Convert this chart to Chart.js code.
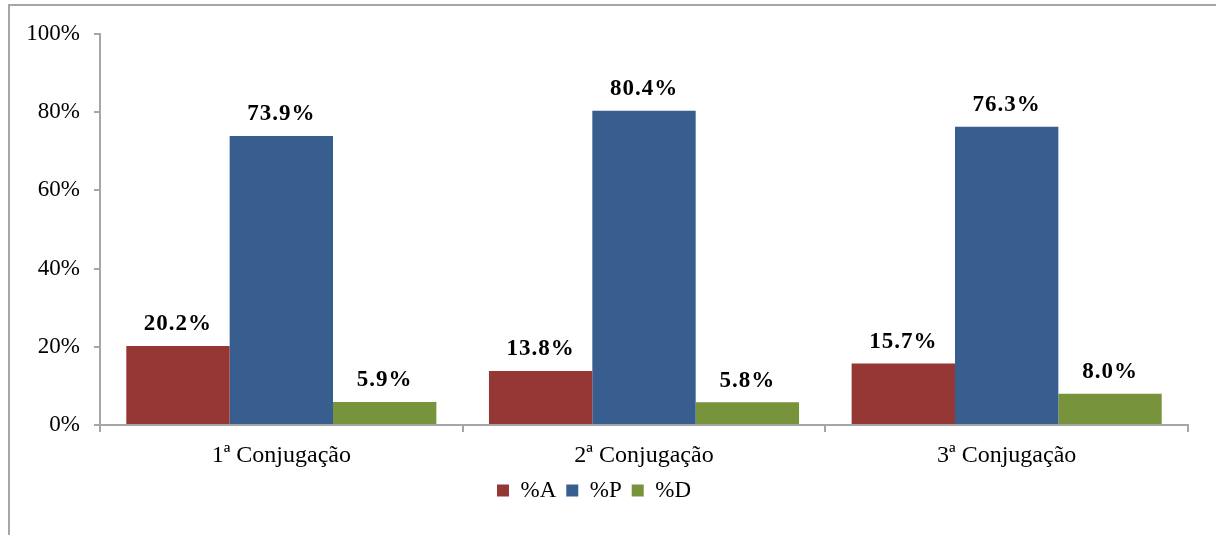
<!DOCTYPE html>
<html>
<head>
<meta charset="utf-8">
<script src="https://cdn.jsdelivr.net/npm/chart.js@4/dist/chart.umd.min.js"></script>
<style>
  body { margin: 0; background: #fff; }
  #frame {
    position: absolute; left: 8px; top: 4px; width: 1206px; height: 560px;
    border-top: 2px solid #a6a6a6; border-left: 2px solid #a6a6a6; border-right: 1px solid #e4e4e4;
  }
  canvas { position: absolute; left: 0; top: 0; }
</style>
</head>
<body>
<div id="frame"></div>
<canvas id="myChart" width="1216" height="535"></canvas>
<script>
// values
const categories = ["1ª Conjugação", "2ª Conjugação", "3ª Conjugação"]
const seriesNames = ["%A", "%P", "%D"]
const valuesA = [20.2, 13.8, 15.7]
const valuesP = [73.9, 80.4, 76.3]
const valuesD = [5.9, 5.8, 8.0]
const yTicks = [0, 20, 40, 60, 80, 100]

const serif = "'Liberation Serif', 'Times New Roman', serif"

// bold value labels above the bars
const barLabels = {
    id: "barLabels",
    afterDatasetsDraw(chart) {
        const ctx = chart.ctx
        ctx.save()
        ctx.font = "bold 23px " + serif
        ctx.letterSpacing = "1px"
        ctx.fillStyle = "#000"
        ctx.textAlign = "center"
        ctx.textBaseline = "bottom"
        chart.data.datasets.forEach((ds, i) => {
            chart.getDatasetMeta(i).data.forEach((bar, j) => {
                ctx.fillText(ds.data[j].toFixed(1) + "%", bar.x, bar.y - 10)
            })
        })
        ctx.restore()
    }
}

new Chart(document.getElementById("myChart").getContext("2d"), {
    type: "bar",
    data: {
        labels: categories,
        datasets: [
            { label: seriesNames[0], data: valuesA, backgroundColor: "rgb(149, 55, 53)" },
            { label: seriesNames[1], data: valuesP, backgroundColor: "rgb(55, 94, 142)" },
            { label: seriesNames[2], data: valuesD, backgroundColor: "rgb(119, 147, 60)" }
        ]
    },
    options: {
        responsive: false,
        animation: false,
        layout: { padding: { top: 34, right: 28, left: 0, bottom: 23 } },
        datasets: { bar: { barPercentage: 1, categoryPercentage: 0.855 } },
        plugins: {
            legend: {
                position: "bottom",
                labels: {
                    boxWidth: 12, boxHeight: 12, padding: 10,
                    color: "#000",
                    font: { family: serif, size: 23 }
                }
            },
            tooltip: { enabled: false }
        },
        scales: {
            x: {
                grid: { drawOnChartArea: false, drawTicks: true, tickLength: 7, color: "#a6a6a6", lineWidth: 2 },
                border: { color: "#a6a6a6", width: 2 },
                ticks: { color: "#000", font: { family: serif, size: 24 }, padding: 9 },
                afterFit: (scale) => { scale.height = 44 }
            },
            y: {
                min: 0, max: 100,
                afterBuildTicks: (scale) => { scale.ticks = yTicks.map(v => ({ value: v })) },
                grid: { drawOnChartArea: false, drawTicks: true, tickLength: 6, color: "#a6a6a6", lineWidth: 2 },
                border: { color: "#a6a6a6", width: 2 },
                ticks: { color: "#000", font: { family: serif, size: 23 }, padding: 14, callback: (v) => v + "%" },
                afterFit: (scale) => { scale.width = 100 }
            }
        }
    },
    plugins: [barLabels]
})
</script>
</body>
</html>
